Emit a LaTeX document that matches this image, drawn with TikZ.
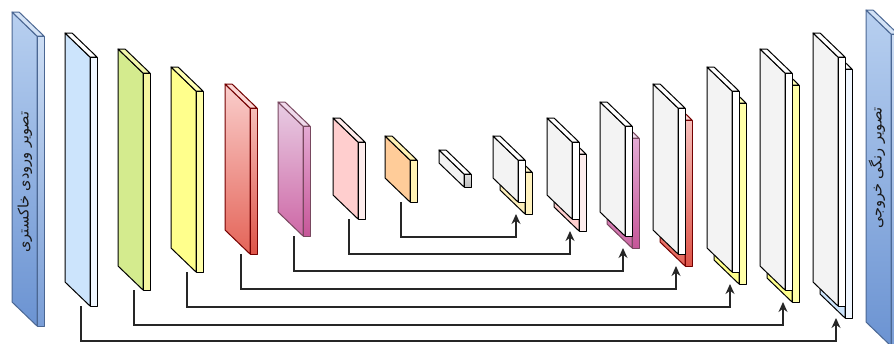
\documentclass[tikz,border=0pt]{standalone}
\usepackage{fontspec}
\newfontfamily\arabicfont[Script=Arabic]{DejaVu Sans}
\TeXXeTstate=1
\usetikzlibrary{arrows.meta}
\definecolor{barlight}{HTML}{B8D0F0}
\definecolor{bardark}{HTML}{6B93D2}
\tikzset{
	face/.style={draw=black, line width=1pt, line join=round},
	barleft/.style={face, draw=bardark!70!black, top color=barlight, bottom color=bardark},
	bartop/.style={face, draw=bardark!70!black, fill=barlight!60},
	barfront/.style={face, draw=bardark!70!black, top color=barlight!70, bottom color=bardark!90},
	bluleft/.style={face, fill={rgb,255:red,204;green,228;blue,252}},
	blutop/.style={face, fill=white},
	blufront/.style={face, fill={rgb,255:red,240;green,247;blue,255}},
	grnleft/.style={face, fill={rgb,255:red,212;green,235;blue,142}},
	grntop/.style={face, fill={rgb,255:red,242;green,247;blue,170}},
	grnfront/.style={face, fill={rgb,255:red,245;green,245;blue,160}},
	yelleft/.style={face, fill={rgb,255:red,255;green,255;blue,140}},
	yeltop/.style={face, fill={rgb,255:red,255;green,255;blue,180}},
	yelfront/.style={face, fill={rgb,255:red,255;green,255;blue,168}},
	redleft/.style={face, draw=red!45!black, top color={rgb,255:red,250;green,206;blue,204}, bottom color={rgb,255:red,228;green,100;blue,88}},
	redtop/.style={face, draw=red!45!black, fill={rgb,255:red,251;green,214;blue,212}},
	redfront/.style={face, draw=red!45!black, top color={rgb,255:red,246;green,190;blue,186}, bottom color={rgb,255:red,222;green,84;blue,72}},
	magleft/.style={face, draw=magenta!40!black, top color={rgb,255:red,232;green,205;blue,228}, bottom color={rgb,255:red,206;green,104;blue,166}},
	magtop/.style={face, draw=magenta!40!black, fill={rgb,255:red,240;green,218;blue,236}},
	magfront/.style={face, draw=magenta!40!black, top color={rgb,255:red,228;green,170;blue,212}, bottom color={rgb,255:red,198;green,86;blue,152}},
	pnkleft/.style={face, fill={rgb,255:red,255;green,206;blue,206}},
	pnktop/.style={face, fill={rgb,255:red,255;green,236;blue,236}},
	pnkfront/.style={face, fill={rgb,255:red,253;green,236;blue,236}},
	orgleft/.style={face, fill={rgb,255:red,255;green,204;blue,153}},
	orgtop/.style={face, fill={rgb,255:red,255;green,242;blue,180}},
	orgfront/.style={face, fill={rgb,255:red,255;green,242;blue,180}},
	crmleft/.style={face, fill={rgb,255:red,252;green,238;blue,186}},
	crmtop/.style={face, fill={rgb,255:red,255;green,246;blue,206}},
	crmfront/.style={face, fill={rgb,255:red,255;green,242;blue,190}},
	gryleft/.style={face, fill={rgb,255:red,242;green,242;blue,242}},
	grytop/.style={face, fill=white},
	gryfront/.style={face, top color={rgb,255:red,225;green,225;blue,225}, bottom color={rgb,255:red,190;green,190;blue,190}},
	whtleft/.style={face, fill={rgb,255:red,243;green,243;blue,243}},
	whttop/.style={face, fill=white},
	whtfront/.style={face, fill=white},
	link/.style={draw=black!85, line width=1.2pt, -{Stealth[length=10pt,width=9pt]}},
	lbl/.style={rotate=90, inner sep=0pt, font=\arabicfont\fontsize{14.5}{14.5}\selectfont, text=black!90}
}
% slab: name, left x, top y, height, colour set
\newcommand\slab[5]{%
	\draw[#5left] (#2,#3) -- ++(25,24) -- ++(0,#4) -- ++(-25,-24) -- cycle;
	\draw[#5top] (#2,#3) -- ++(7,0) -- ++(25,24) -- ++(-7,0) -- cycle;
	\draw[#5front] (#2+25,#3+24) rectangle ++(7,#4);
	\coordinate (#1) at (#2+16,#3+24+#4);
}
\begin{document}
\begin{tikzpicture}[x=1pt,y=-1pt]
	\useasboundingbox (0,0) rectangle (894,343);
	\slab{in}{12}{12}{290}{bar}
	\node[lbl] (inlbl) at (25,182) {\beginR تصویر ورودی خاکستری\endR};
	\slab{e1}{65}{33}{249}{blu}
	\slab{e2}{118}{49}{217}{grn}
	\slab{e3}{171}{67}{181}{yel}
	\slab{e4}{225}{84}{146}{red}
	\slab{e5}{278}{102}{110}{mag}
	\slab{e6}{333}{118}{77}{pnk}
	\slab{e7}{385}{136}{42}{org}
	\slab{e8}{439}{150}{13}{gry}
	\slab{d1}{500}{148}{42}{crm}
	\slab{w1}{493}{136}{42}{wht}
	\slab{d2}{554}{130}{77}{pnk}
	\slab{w2}{547}{118}{77}{wht}
	\slab{d3}{607}{114}{110}{mag}
	\slab{w3}{600}{102}{110}{wht}
	\slab{d4}{660}{96}{146}{red}
	\slab{w4}{653}{84}{146}{wht}
	\slab{d5}{714}{79}{181}{yel}
	\slab{w5}{707}{67}{181}{wht}
	\slab{d6}{767}{61}{217}{yel}
	\slab{w6}{760}{49}{217}{wht}
	\slab{d7}{820}{45}{249}{blu}
	\slab{w7}{813}{33}{249}{wht}
	\slab{out}{866}{10}{312}{bar}
	\node[lbl] (outlbl) at (877,168) {\beginR تصویر رنگی خروجی\endR};
	\draw[link] (e1) -- ++(0,35) -| (d7);
	\draw[link] (e2) -- ++(0,35) -| (d6);
	\draw[link] (e3) -- ++(0,35) -| (d5);
	\draw[link] (e4) -- ++(0,35) -| (d4);
	\draw[link] (e5) -- ++(0,35) -| (d3);
	\draw[link] (e6) -- ++(0,35) -| (d2);
	\draw[link] (e7) -- ++(0,35) -| (d1);
\end{tikzpicture}
\end{document}
